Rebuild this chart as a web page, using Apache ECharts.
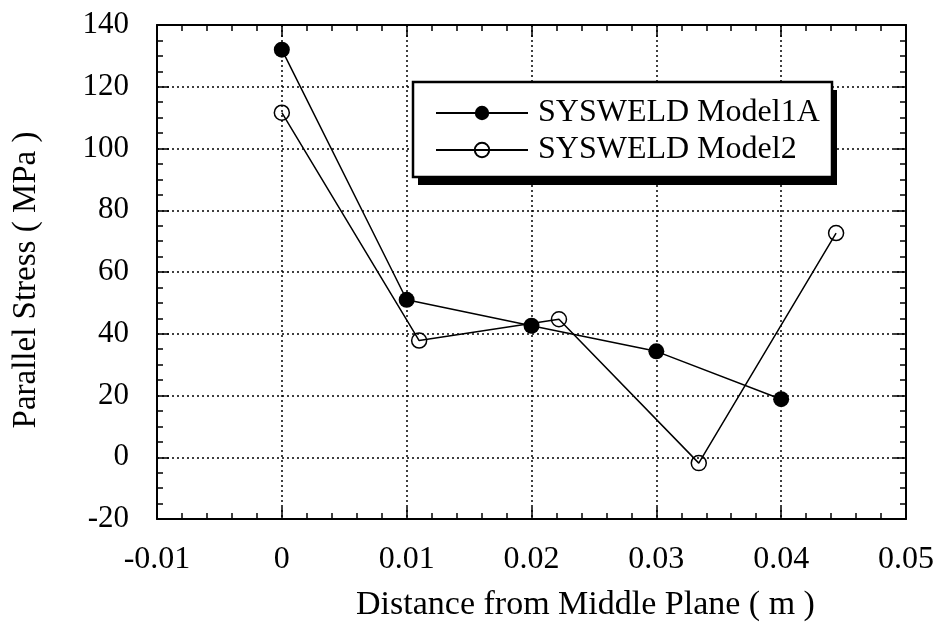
<!DOCTYPE html>
<html>
<head>
<meta charset="utf-8">
<script src="https://cdn.jsdelivr.net/npm/echarts@6/dist/echarts.min.js"></script>
<style>
  html, body { margin: 0; padding: 0; background: #fff; }
  #chart { width: 941px; height: 627px; }
</style>
</head>
<body>
<div id="chart"></div>
<script>
// Parallel stress across the plate thickness, two SYSWELD models
const seriesNames = ['SYSWELD Model1A', 'SYSWELD Model2'];

const model1aX = [0, 0.01, 0.02, 0.03, 0.04];
const model1aY = [132, 51, 42.6, 34.3, 18.8];

const model2X = [0, 0.011, 0.0222, 0.0334, 0.0444];
const model2Y = [111.6, 37.8, 44.7, -1.9, 72.6];

const xTickLabels = ['-0.01', '0', '0.01', '0.02', '0.03', '0.04', '0.05'];
const yTickLabels = ['-20', '0', '20', '40', '60', '80', '100', '120', '140'];

const FONT = '"Liberation Serif", "DejaVu Serif", serif';
const INK = '#000';

const pairs = (xs, ys) => xs.map((x, i) => [x, ys[i]]);

const xMin = -0.01, xMax = 0.05, xStep = 0.01;
const yMin = -20, yMax = 140, yStep = 20;

function xLabel(v) {
  const i = Math.round((v - xMin) / xStep);
  return xTickLabels[i] !== undefined ? xTickLabels[i] : '';
}
function yLabel(v) {
  const i = Math.round((v - yMin) / yStep);
  return yTickLabels[i] !== undefined ? yTickLabels[i] : '';
}

const frameTick = { show: true, inside: true, length: 12, lineStyle: { color: INK, width: 1.5 } };
const frameMinor = (n) => ({ show: true, splitNumber: n, length: 6, lineStyle: { color: INK, width: 1.5 } });
const frameLine = { show: true, onZero: false, lineStyle: { color: INK, width: 2 } };
const dottedGrid = { show: true, lineStyle: { color: INK, width: 1.5, type: [2, 3] } };

const chart = echarts.init(document.getElementById('chart'));

chart.setOption({
  backgroundColor: '#fff',
  animation: false,
  grid: { left: 157, right: 35, top: 25, bottom: 107 },
  xAxis: [
    {
      type: 'value', min: xMin, max: xMax, interval: xStep,
      name: 'Distance from Middle Plane ( m )',
      nameLocation: 'middle', nameGap: 69,
      nameTextStyle: { fontFamily: FONT, fontSize: 34, color: INK, padding: [0, 0, 0, 108] },
      axisLine: frameLine, axisTick: frameTick, minorTick: frameMinor(5),
      splitLine: dottedGrid,
      axisLabel: { fontFamily: FONT, fontSize: 32, color: INK, margin: 25, formatter: xLabel }
    },
    {
      type: 'value', min: xMin, max: xMax, interval: xStep, position: 'top',
      axisLine: frameLine, axisTick: frameTick, minorTick: frameMinor(5),
      splitLine: { show: false }, axisLabel: { show: false }
    }
  ],
  yAxis: [
    {
      type: 'value', min: yMin, max: yMax, interval: yStep,
      name: 'Parallel Stress ( MPa )',
      nameLocation: 'middle', nameGap: 114,
      nameTextStyle: { fontFamily: FONT, fontSize: 33, color: INK, padding: [0, 16, 0, 0] },
      axisLine: frameLine, axisTick: frameTick, minorTick: frameMinor(4),
      splitLine: dottedGrid,
      axisLabel: { fontFamily: FONT, fontSize: 31, color: INK, margin: 28, formatter: yLabel }
    },
    {
      type: 'value', min: yMin, max: yMax, interval: yStep, position: 'right',
      axisLine: frameLine, axisTick: frameTick, minorTick: frameMinor(4),
      splitLine: { show: false }, axisLabel: { show: false }
    }
  ],
  // Legend frame with a solid drop shadow
  graphic: [
    {
      type: 'rect', z: 3, silent: true,
      shape: { x: 418, y: 90, width: 419, height: 95 },
      style: { fill: INK }
    },
    {
      type: 'rect', z: 3, silent: true,
      shape: { x: 413, y: 82, width: 419, height: 95 },
      style: { fill: '#fff', stroke: INK, lineWidth: 2.5 }
    }
  ],
  legend: {
    z: 5,
    orient: 'vertical',
    left: 435, top: 97,
    padding: 0,
    itemWidth: 92, itemHeight: 18, itemGap: 5,
    data: seriesNames,
    textStyle: { fontFamily: FONT, fontSize: 32, color: INK, lineHeight: 30, padding: [0, 0, 0, 5] }
  },
  series: [
    {
      name: seriesNames[0], type: 'line', z: 3,
      data: pairs(model1aX, model1aY),
      symbol: 'circle', symbolSize: 16,
      lineStyle: { color: INK, width: 1.5 },
      itemStyle: { color: INK, borderColor: INK, borderWidth: 0 }
    },
    {
      name: seriesNames[1], type: 'line', z: 2,
      data: pairs(model2X, model2Y),
      symbol: 'circle', symbolSize: 15,
      lineStyle: { color: INK, width: 1.5 },
      itemStyle: { color: 'rgba(255,255,255,0)', borderColor: INK, borderWidth: 1.5 }
    }
  ]
});
</script>
</body>
</html>
